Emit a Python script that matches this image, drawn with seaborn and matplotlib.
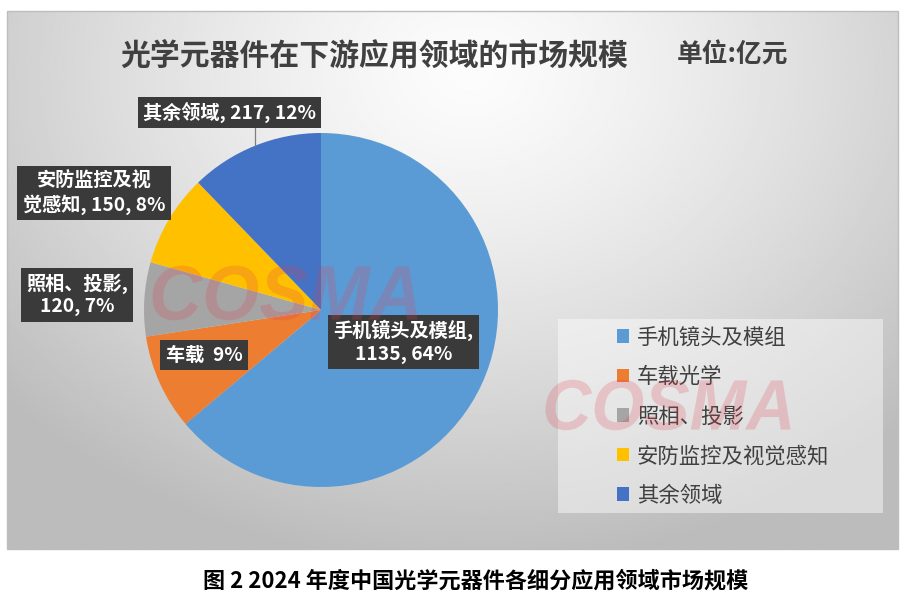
import numpy as np
import pandas as pd
import seaborn as sns
import matplotlib
matplotlib.use("Agg")
import matplotlib.pyplot as plt
from matplotlib.patches import Rectangle, PathPatch
from matplotlib.textpath import TextPath
from matplotlib.font_manager import FontProperties
from matplotlib.transforms import Affine2D, IdentityTransform

# ---------------- data ----------------
categories = ["手机镜头及模组", "车载光学", "照相、投影", "安防监控及视觉感知", "其余领域"]
values = [1135, 155, 120, 150, 217]
colors = ["#5B9BD5", "#ED7D31", "#A5A5A5", "#FFC000", "#4472C4"]
label_templates = [
    "手机镜头及模组,\n{v}, {p}%",
    "车载  {p}%",
    "照相、投影,\n{v}, {p}%",
    "安防监控及视\n觉感知, {v}, {p}%",
    "其余领域, {v}, {p}%",
]
title = "光学元器件在下游应用领域的市场规模"
unit = "单位:亿元"
caption = "图 2 2024 年度中国光学元器件各细分应用领域市场规模"
watermark = "COSMA"

df = pd.DataFrame({"category": categories, "value": values, "color": colors})
total = df["value"].sum()
df["pct"] = (df["value"] / total * 100).round().astype(int)

# ---------------- style ----------------
sns.set_theme(style="white")
plt.rcParams["font.family"] = ["Noto Sans CJK SC", "DejaVu Sans"]

W, H = 905, 602
fig = plt.figure(figsize=(W / 100, H / 100), dpi=100)
fig.patch.set_facecolor("white")


def fx(px):
    return px / W


def fy(py):
    return 1 - py / H


# background panel with radial gradient
px0, py0, px1, py1 = 7, 11, 898, 549
bg = fig.add_axes([fx(px0), fy(py1), (px1 - px0) / W, (py1 - py0) / H])
xs = np.linspace(px0, px1, 450)
ys = np.linspace(py0, py1, 270)
X, Y = np.meshgrid(xs, ys)
r = np.sqrt((X - 470) ** 2 + ((Y - 70) * 1.25) ** 2)
g = 252 - 64 * np.clip(r / 620, 0, 1) ** 1.3
bg.imshow(g, cmap="gray", vmin=0, vmax=255, extent=[0, 1, 0, 1],
          aspect="auto", origin="upper", interpolation="bilinear")
bg.set_axis_off()
fig.add_artist(Rectangle((fx(px0), fy(py1)), (px1 - px0) / W, (py1 - py0) / H,
                         transform=fig.transFigure, fc="none", ec="#BDBDBD", lw=1.0))

# pie
cx, cy, R = 321, 310, 177
ax = fig.add_axes([fx(cx - R), fy(cy + R), 2 * R / W, 2 * R / H])
wedges, _ = ax.pie(df["value"], colors=df["color"], startangle=90, counterclock=False,
                   radius=1, wedgeprops=dict(linewidth=0))
ax.set_xlim(-1, 1)
ax.set_ylim(-1, 1)
ax.set_axis_off()

# data labels
label_pos = [(403.5, 342), (204, 355), (77, 295), (94, 193), (229.5, 112.5)]
for (lx, ly), tmpl, v, p in zip(label_pos, label_templates, df["value"], df["pct"]):
    ax.text((lx - cx) / R, (cy - ly) / R, tmpl.format(v=v, p=p), ha="center", va="center",
            color="white", fontsize=13.8, fontweight="bold", linespacing=1.22,
            bbox=dict(boxstyle="square,pad=0.28", fc="#3A3A3A", ec="none"),
            clip_on=False, zorder=5)

# leader line for the last slice
w = wedges[4]
mid = np.deg2rad((w.theta1 + w.theta2) / 2)
mx, my = np.cos(mid), np.sin(mid)
ax.plot([mx, mx], [my, (cy - 127) / R], color="#7F7F7F", lw=0.9, clip_on=False, zorder=4)

# legend
fig.add_artist(Rectangle((fx(558), fy(513)), (883 - 558) / W, (513 - 319) / H,
                         transform=fig.transFigure, fc="white", alpha=0.45, ec="none"))
leg = fig.legend(wedges, df["category"], loc="center left",
                 bbox_to_anchor=(fx(617), fy(416.5)), frameon=False, fontsize=15.4,
                 handlelength=0.58, handleheight=0.58, handletextpad=0.35,
                 labelspacing=0.82, borderpad=0, borderaxespad=0)
for t in leg.get_texts():
    t.set_color("#404040")

# titles
fig.text(fx(120), fy(55), title, ha="left", va="center", fontsize=21.5,
         fontweight="bold", color="#404040")
fig.text(fx(677), fy(55), unit, ha="left", va="center", fontsize=18.5,
         fontweight="bold", color="#404040")

# watermark logo (drawn as a shape)
wm_prop = FontProperties(family="Liberation Sans", weight="bold", style="italic")
base = TextPath((0, 0), watermark, size=100, prop=wm_prop)
ext = base.get_extents()
for wcx, wcy, wwidth in [(285, 293, 265), (668, 405, 245)]:
    s = wwidth / ext.width
    tr = (Affine2D().translate(-(ext.x0 + ext.width / 2), -(ext.y0 + ext.height / 2))
          .scale(s, s * 1.05).translate(wcx, H - wcy))
    fig.add_artist(PathPatch(tr.transform_path(base), transform=IdentityTransform(),
                             fc="#E0404F", ec="none", alpha=0.22, zorder=10))

# caption
fig.text(fx(476), fy(581), caption, ha="center", va="center", fontsize=15.9,
         fontweight="bold", color="black")

fig.savefig("out.png", dpi=100)
